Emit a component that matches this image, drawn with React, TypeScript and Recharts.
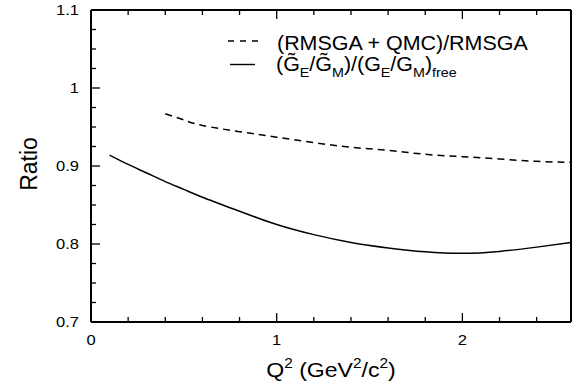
import { Line, LineChart, XAxis, YAxis } from "recharts";

// Q^2 grid (GeV^2/c^2) and the two ratio curves
const Q2 = [0.1, 0.2, 0.3, 0.4, 0.5, 0.6, 0.8, 1.0, 1.2, 1.4, 1.6, 1.8, 2.0, 2.2, 2.4, 2.585];
const RATIO_FORM = [0.914, 0.902, 0.891, 0.88, 0.87, 0.86, 0.842, 0.825, 0.812, 0.802, 0.795, 0.79, 0.788, 0.7905, 0.796, 0.802];
const RATIO_QMC = [null, null, null, 0.967, 0.959, 0.952, 0.944, 0.937, 0.93, 0.924, 0.92, 0.915, 0.912, 0.909, 0.906, 0.9047];

const X_TICKS = [0, 0.2, 0.4, 0.6, 0.8, 1, 1.2, 1.4, 1.6, 1.8, 2, 2.2, 2.4];
const X_MAJOR = [0, 1, 2];
const Y_TICKS = [
  0.7, 0.725, 0.75, 0.775, 0.8, 0.825, 0.85, 0.875, 0.9, 0.925, 0.95, 0.975, 1, 1.025, 1.05, 1.075, 1.1,
];
const Y_MAJOR = [0.7, 0.8, 0.9, 1, 1.1];

const data = Q2.map((q, i) => ({ q, form: RATIO_FORM[i], qmc: RATIO_QMC[i] }));

const FONT = "'Liberation Sans', Arial, Helvetica, sans-serif";
const STRETCH = 1.1;
const TICK_FS = 15;
const MAJOR_LEN = 9;
const MINOR_LEN = 5;
const TICK_W = 1.3;

const isMajor = (v: number, majors: number[]) => majors.some((m) => Math.abs(m - v) < 1e-9);
const fmt = (v: number) => String(Math.round(v * 10) / 10);

// ticks point into the frame; labels sit outside on left/bottom
function LeftTick(props: any) {
  const x = Number(props.x);
  const y = Number(props.y);
  const v = props.payload.value;
  const len = isMajor(v, Y_MAJOR) ? MAJOR_LEN : MINOR_LEN;
  return (
    <g>
      <rect x={x} y={y - TICK_W / 2} width={len} height={TICK_W} fill="#000" />
      {isMajor(v, Y_MAJOR) && (
        <text
          transform={`translate(${x - 12},${y + TICK_FS * 0.36}) scale(${STRETCH},1)`}
          textAnchor="end"
          fontSize={TICK_FS}
          fontFamily={FONT}
          fill="#000"
        >
          {fmt(v)}
        </text>
      )}
    </g>
  );
}

function RightTick(props: any) {
  const x = Number(props.x);
  const y = Number(props.y);
  const len = isMajor(props.payload.value, Y_MAJOR) ? MAJOR_LEN : MINOR_LEN;
  return (
    <g>
      <rect x={x - len} y={y - TICK_W / 2} width={len} height={TICK_W} fill="#000" />
    </g>
  );
}

function BottomTick(props: any) {
  const x = Number(props.x);
  const y = Number(props.y);
  const v = props.payload.value;
  const len = isMajor(v, X_MAJOR) ? MAJOR_LEN : MINOR_LEN;
  return (
    <g>
      <rect x={x - TICK_W / 2} y={y - len} width={TICK_W} height={len} fill="#000" />
      {isMajor(v, X_MAJOR) && (
        <text
          transform={`translate(${x},${y + 23}) scale(${STRETCH},1)`}
          textAnchor="middle"
          fontSize={TICK_FS}
          fontFamily={FONT}
          fill="#000"
        >
          {fmt(v)}
        </text>
      )}
    </g>
  );
}

function TopTick(props: any) {
  const x = Number(props.x);
  const y = Number(props.y);
  const len = isMajor(props.payload.value, X_MAJOR) ? MAJOR_LEN : MINOR_LEN;
  return (
    <g>
      <rect x={x - TICK_W / 2} y={y} width={TICK_W} height={len} fill="#000" />
    </g>
  );
}

function XTitle({ viewBox }: any) {
  const cx = viewBox.x + viewBox.width / 2;
  const by = viewBox.y + 55;
  return (
    <text
      transform={`translate(${cx},${by}) scale(${STRETCH},1)`}
      textAnchor="middle"
      fontSize={21}
      fontFamily={FONT}
      fill="#000"
    >
      Q<tspan fontSize={14} dy={-9}>2</tspan>
      <tspan dy={9}> (GeV</tspan>
      <tspan fontSize={14} dy={-9}>2</tspan>
      <tspan dy={9}>/c</tspan>
      <tspan fontSize={14} dy={-9}>2</tspan>
      <tspan dy={9}>)</tspan>
    </text>
  );
}

function YTitle({ viewBox }: any) {
  const bx = 37;
  const cy = viewBox.y + viewBox.height / 2 - 2;
  return (
    <text
      transform={`rotate(-90 ${bx} ${cy})`}
      x={bx}
      y={cy}
      textAnchor="middle"
      fontSize={23}
      fontFamily={FONT}
      fill="#000"
    >
      Ratio
    </text>
  );
}

const SUB = 13;
const SUB_DY = 6;

function LegendBox() {
  return (
    <svg
      width={573}
      height={392}
      style={{ position: "absolute", left: 0, top: 0, pointerEvents: "none" }}
    >
      <line x1={228} x2={258} y1={41} y2={41} stroke="#000" strokeWidth={1.4} strokeDasharray="6 6" />
      <text
        transform={`translate(277,49.5) scale(${STRETCH},1)`}
        fontSize={19.5}
        fontFamily={FONT}
        fill="#000"
      >
        (RMSGA + QMC)/RMSGA
      </text>
      <line x1={230} x2={255} y1={64.5} y2={64.5} stroke="#000" strokeWidth={1.4} />
      <text
        transform={`translate(276,70.5) scale(${STRETCH},1)`}
        fontSize={19.5}
        fontFamily={FONT}
        fill="#000"
      >
        (G&#x303;
        <tspan fontSize={SUB} dy={SUB_DY}>E</tspan>
        <tspan dy={-SUB_DY}>/G&#x303;</tspan>
        <tspan fontSize={SUB} dy={SUB_DY}>M</tspan>
        <tspan dy={-SUB_DY}>)/(G</tspan>
        <tspan fontSize={SUB} dy={SUB_DY}>E</tspan>
        <tspan dy={-SUB_DY}>/G</tspan>
        <tspan fontSize={SUB} dy={SUB_DY}>M</tspan>
        <tspan dy={-SUB_DY}>)</tspan>
        <tspan fontSize={SUB} dy={SUB_DY}>free</tspan>
      </text>
    </svg>
  );
}

export default function App() {
  return (
    <div style={{ position: "absolute", left: 0, top: 0, width: 573, height: 392, background: "#fff" }}>
      <LineChart width={573} height={392} data={data} margin={{ top: 9, right: 1, bottom: 0, left: 0 }}>
        <XAxis
          xAxisId="bottom"
          dataKey="q"
          type="number"
          domain={[0, 2.585]}
          ticks={X_TICKS}
          interval={0}
          height={70}
          tickSize={0}
          tickMargin={0}
          tickLine={false}
          tick={BottomTick}
          axisLine={{ stroke: "#000", strokeWidth: 2 }}
          label={{ content: XTitle }}
        />
        <XAxis
          xAxisId="top"
          orientation="top"
          dataKey="q"
          type="number"
          domain={[0, 2.585]}
          ticks={X_TICKS}
          interval={0}
          height={1}
          tickSize={0}
          tickMargin={0}
          tickLine={false}
          tick={TopTick}
          axisLine={{ stroke: "#000", strokeWidth: 2 }}
        />
        <YAxis
          yAxisId="left"
          type="number"
          domain={[0.7, 1.1]}
          ticks={Y_TICKS}
          interval={0}
          width={91}
          tickSize={0}
          tickMargin={0}
          tickLine={false}
          tick={LeftTick}
          axisLine={{ stroke: "#000", strokeWidth: 2 }}
          label={{ content: YTitle }}
        />
        <YAxis
          yAxisId="right"
          orientation="right"
          type="number"
          domain={[0.7, 1.1]}
          ticks={Y_TICKS}
          interval={0}
          width={1}
          tickSize={0}
          tickMargin={0}
          tickLine={false}
          tick={RightTick}
          axisLine={{ stroke: "#000", strokeWidth: 2 }}
        />
        <Line
          xAxisId="bottom"
          yAxisId="left"
          type="natural"
          dataKey="form"
          stroke="#000"
          strokeWidth={1.5}
          dot={false}
          isAnimationActive={false}
        />
        <Line
          xAxisId="bottom"
          yAxisId="left"
          type="natural"
          dataKey="qmc"
          stroke="#000"
          strokeWidth={1.5}
          strokeDasharray="7 5"
          dot={false}
          isAnimationActive={false}
        />
      </LineChart>
      <LegendBox />
    </div>
  );
}
